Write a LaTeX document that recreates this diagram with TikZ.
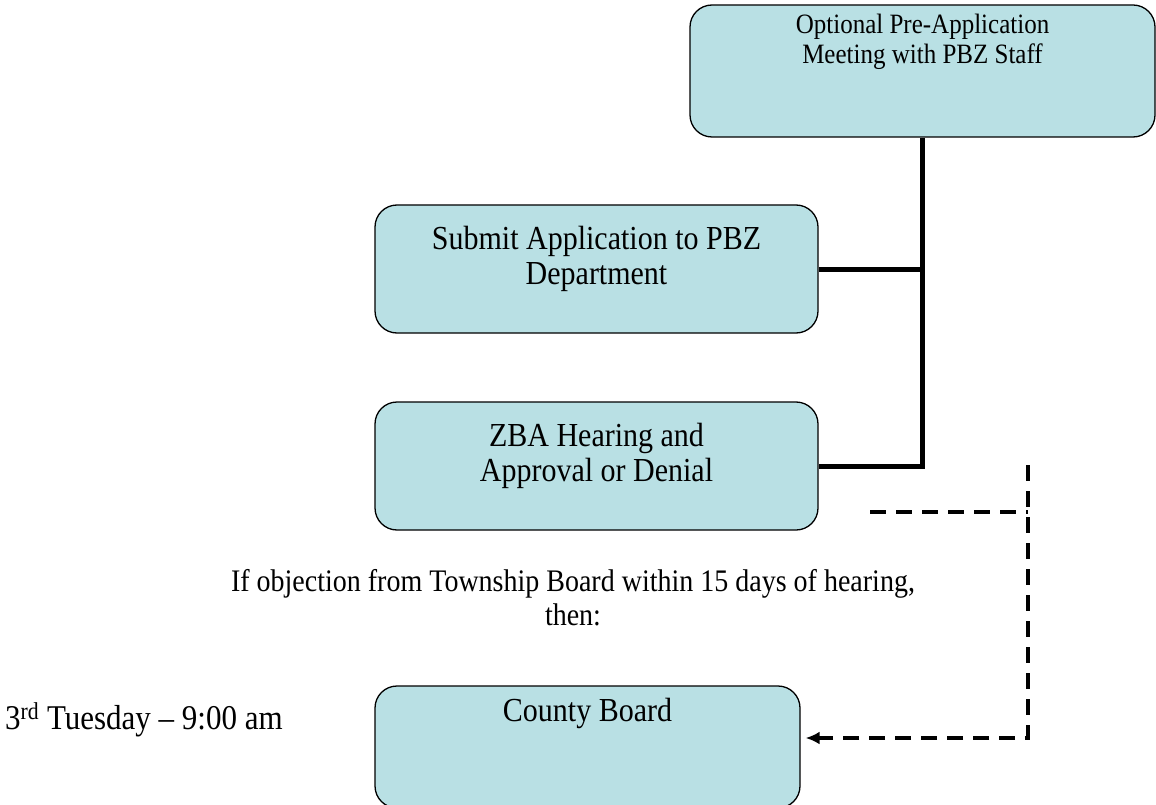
\documentclass[tikz,border=0pt]{standalone}
\usepackage{fontspec}
\usepackage{graphicx}
\setmainfont{Liberation Serif}
\usetikzlibrary{positioning, arrows.meta}

\definecolor{boxfill}{RGB}{185,224,228}
% text of the reference is a bit taller than wide
\newcommand{\tall}[1]{\scalebox{1}[1.12]{\begin{tabular}{@{}c@{}}#1\end{tabular}}}

\begin{document}
\begin{tikzpicture}[x=1pt, y=-1pt,
        stepbox/.style={draw, rectangle, rounded corners=22pt, fill=boxfill, line width=1.3pt},
        boxtext/.style={inner sep=0pt, font=\fontsize{30}{31}\selectfont},
        link/.style={line width=5pt},
        dashlink/.style={line width=4pt, dash pattern=on 16pt off 10pt}]
        \clip (0,0) rectangle (1156,805);

        % Boxes of the procedure
        \node[stepbox, minimum width=465pt, minimum height=132pt] (meeting) at (922.5, 71) {};
        \node[boxtext, anchor=north, font=\fontsize{25}{26}\selectfont] (meeting-txt) at ([yshift=-9pt]meeting.north) {\tall{Optional Pre-Application\\Meeting with PBZ Staff}};

        \node[stepbox, minimum width=443pt, minimum height=128pt] (submit) at (596.5, 269) {};
        \node[boxtext, anchor=north] (submit-txt) at ([yshift=-21pt]submit.north) {\tall{Submit Application to PBZ\\Department}};

        \node[stepbox, minimum width=443pt, minimum height=128pt] (zba) at (596.5, 466) {};
        \node[boxtext, anchor=north] (zba-txt) at ([yshift=-21pt]zba.north) {\tall{ZBA Hearing and\\Approval or Denial}};

        \node[stepbox, minimum width=425pt, minimum height=122pt] (county) at (587.5, 747) {};
        \node[boxtext, anchor=north] (county-txt) at ([yshift=-12pt]county.north) {\tall{County Board}};

        % Free texts
        \node[boxtext, font=\fontsize{28}{30}\selectfont] (objection) at (573, 602) {\tall{If objection from Township Board within 15 days of hearing,\\then:}};
        \node[boxtext, anchor=west, font=\fontsize{31}{31}\selectfont] (schedule) at (5, 721) {\tall{3\textsuperscript{rd} Tuesday -- 9:00 am}};

        % Solid connectors
        \draw[link] (meeting.south) |- (zba.east);
        \draw[link] (submit.east) -- (submit.east -| meeting.south);

        % Dashed connector to the county board
        \coordinate (dash-start) at (870, 512);
        \coordinate (dash-turn) at (1028, 465);
        \draw[dashlink] (dash-start) -- (dash-start -| dash-turn);
        \draw[dashlink, -{Latex[length=14pt, width=13pt]}, shorten >=5pt] (dash-turn) |- ([yshift=9pt]county.east);
    \end{tikzpicture}
\end{document}
